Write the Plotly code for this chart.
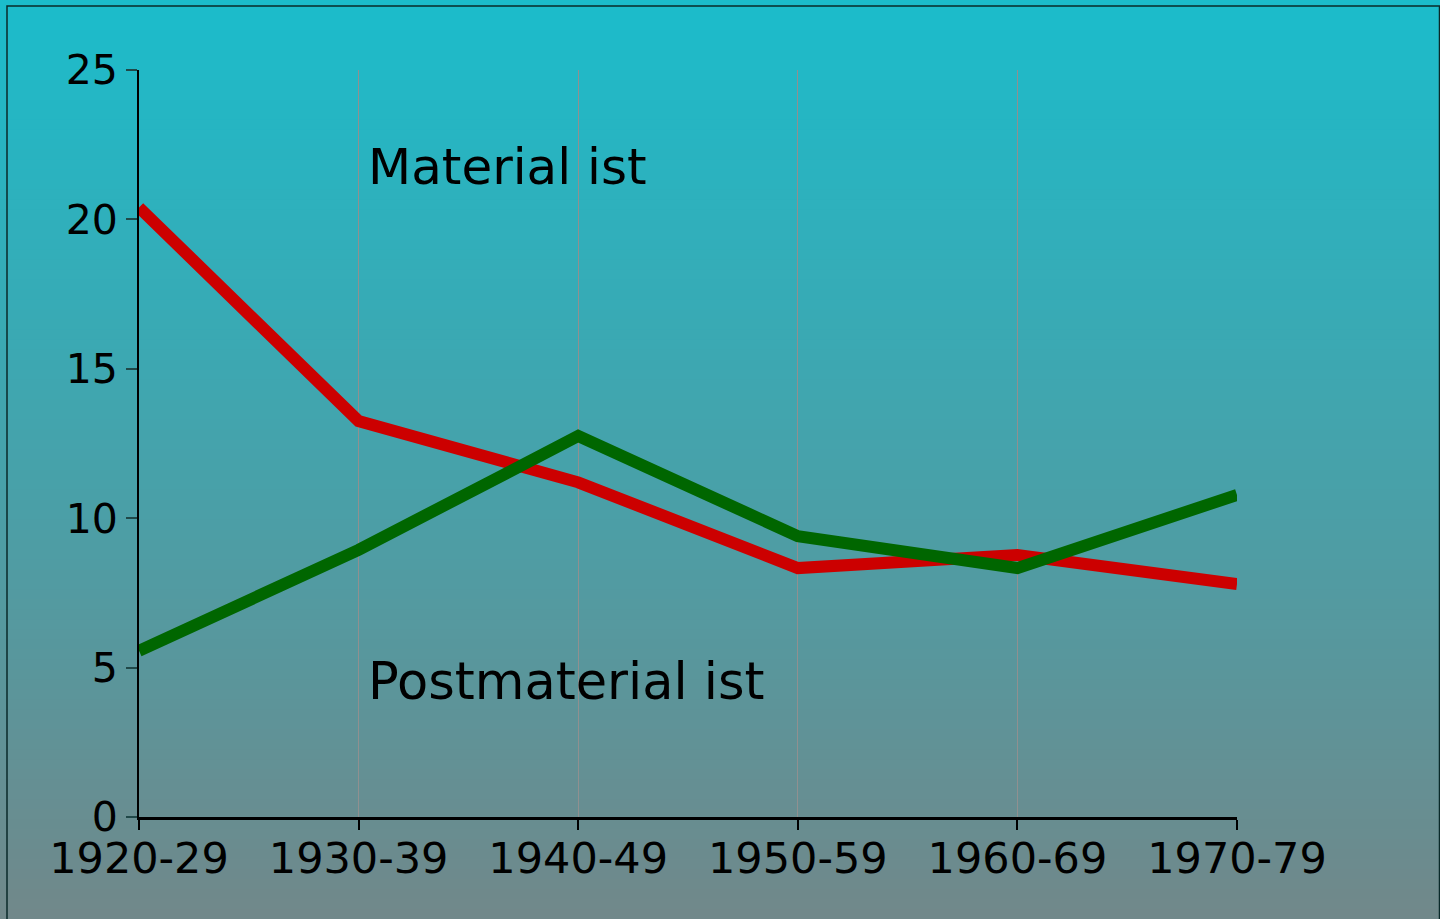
import plotly.graph_objects as go

categories = ["1920-29", "1930-39", "1940-49", "1950-59", "1960-69", "1970-79"]
materialist = [20.4, 13.25, 11.2, 8.33, 8.77, 7.8]
postmaterialist = [5.56, 8.94, 12.75, 9.4, 8.33, 10.78]
y_ticks = [0, 5, 10, 15, 20, 25]

W, H = 1440, 919
L, R, T, B = 139, 1440 - 1237, 70, 919 - 817
pw, ph = W - L - R, H - T - B

def px_to_paper_x(px):
    return (px - L) / pw

def px_to_paper_y(py):
    return (H - B - py) / ph

fig = go.Figure()
fig.add_trace(go.Scatter(x=categories, y=materialist, mode="lines",
                         line=dict(color="#CC0000", width=12), showlegend=False))
fig.add_trace(go.Scatter(x=categories, y=postmaterialist, mode="lines",
                         line=dict(color="#006600", width=12), showlegend=False))

# background gradient as bands
top = (27, 188, 203)
bot = (113, 136, 138)
n = 92
shapes = []
for i in range(n):
    f = i / (n - 1)
    c = tuple(round(top[k] + (bot[k] - top[k]) * f) for k in range(3))
    y0 = i * H / n
    y1 = (i + 1) * H / n + 1
    shapes.append(dict(type="rect", xref="paper", yref="paper", layer="below",
                       x0=px_to_paper_x(0), x1=px_to_paper_x(W),
                       y0=px_to_paper_y(y1), y1=px_to_paper_y(y0),
                       line=dict(width=0), fillcolor="rgb(%d,%d,%d)" % c))
# frame border
shapes.append(dict(type="rect", xref="paper", yref="paper", layer="below",
                   x0=px_to_paper_x(7), x1=px_to_paper_x(1439.5),
                   y0=px_to_paper_y(930), y1=px_to_paper_y(6),
                   line=dict(width=1.5, color="#0a2a2a"), fillcolor="rgba(0,0,0,0)"))

fig.update_layout(
    width=W, height=H,
    margin=dict(l=L, r=R, t=T, b=B),
    paper_bgcolor="rgba(0,0,0,0)", plot_bgcolor="rgba(0,0,0,0)",
    shapes=shapes,
    font=dict(family="DejaVu Sans", color="black"),
    xaxis=dict(type="category", range=[0, 5], showgrid=True, gridcolor="#909090",
               gridwidth=1, showline=True, linecolor="black", linewidth=3,
               ticks="outside", ticklen=10, tickcolor="black", tickwidth=2,
               ticklabelstandoff=-9,
               tickfont=dict(size=43, family="DejaVu Sans"), zeroline=False),
    yaxis=dict(range=[0, 25], tickvals=y_ticks, showgrid=False, showline=True,
               linecolor="black", linewidth=2, ticks="outside", ticklen=11,
               tickcolor="#204848", tickwidth=2, tickfont=dict(size=41, family="DejaVu Sans"),
               zeroline=False),
    annotations=[
        dict(text="Material ist", xref="paper", yref="paper",
             x=px_to_paper_x(366), y=px_to_paper_y(167), xanchor="left", yanchor="middle",
             showarrow=False, font=dict(size=50, color="black")),
        dict(text="Postmaterial ist", xref="paper", yref="paper",
             x=px_to_paper_x(366), y=px_to_paper_y(681), xanchor="left", yanchor="middle",
             showarrow=False, font=dict(size=51, color="black")),
    ],
)

fig.write_html("out.html", config={"displayModeBar": False},
               post_script="document.body.style.margin='0';document.body.style.overflow='hidden';")
